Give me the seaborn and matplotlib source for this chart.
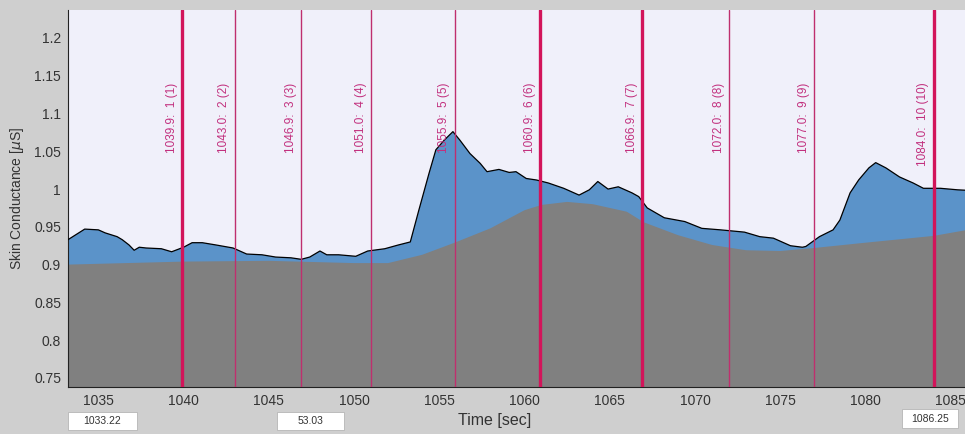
import matplotlib
matplotlib.use("Agg")
import matplotlib.pyplot as plt
from matplotlib.patches import Rectangle
import seaborn as sns
import numpy as np
import pandas as pd

# --------------------------
# Data
# --------------------------
sig_time = [1033.22, 1034.2, 1035.0, 1035.4, 1036.1, 1036.4, 1036.8, 1037.1, 1037.4, 1037.8,
            1038.7, 1039.3, 1040.0, 1040.5, 1041.1, 1041.9, 1042.9, 1043.7, 1044.6, 1045.4,
            1046.3, 1046.9, 1047.4, 1048.0, 1048.4, 1049.1, 1050.1, 1050.8, 1051.8, 1052.6,
            1053.3, 1053.8, 1054.4, 1054.8, 1055.3, 1055.8, 1056.2, 1056.8, 1057.4, 1057.8,
            1058.5, 1059.1, 1059.5, 1060.1, 1060.7, 1061.4, 1062.3, 1063.2, 1063.8, 1064.3,
            1064.9, 1065.5, 1066.3, 1066.7, 1067.2, 1068.2, 1069.4, 1070.4, 1071.5, 1072.9,
            1073.8, 1074.6, 1075.6, 1076.3, 1076.5, 1077.3, 1078.1, 1078.5, 1079.1, 1079.6,
            1080.2, 1080.6, 1081.2, 1082.0, 1082.8, 1083.4, 1084.4, 1085.4, 1086.25]
sig_value = [0.933, 0.947, 0.946, 0.942, 0.937, 0.933, 0.926, 0.919, 0.923, 0.922,
             0.921, 0.917, 0.923, 0.929, 0.929, 0.926, 0.922, 0.914, 0.913, 0.910,
             0.909, 0.907, 0.910, 0.918, 0.913, 0.913, 0.911, 0.918, 0.921, 0.926,
             0.930, 0.972, 1.021, 1.052, 1.065, 1.076, 1.065, 1.047, 1.034, 1.023,
             1.026, 1.022, 1.023, 1.014, 1.012, 1.008, 1.001, 0.992, 0.999, 1.010,
             1.000, 1.003, 0.995, 0.990, 0.975, 0.962, 0.957, 0.948, 0.946, 0.943,
             0.937, 0.935, 0.925, 0.923, 0.924, 0.937, 0.946, 0.959, 0.995, 1.012,
             1.028, 1.035, 1.028, 1.016, 1.008, 1.001, 1.001, 0.999, 0.998]

tonic_time = [1033.22, 1040, 1045, 1050, 1052, 1054, 1055.9, 1058, 1060, 1061,
              1062.5, 1064, 1066, 1067, 1069, 1071, 1073, 1075, 1077, 1080, 1084, 1086.25]
tonic_value = [0.900, 0.904, 0.905, 0.902, 0.902, 0.913, 0.929, 0.948, 0.972, 0.979,
               0.983, 0.980, 0.970, 0.956, 0.939, 0.926, 0.919, 0.918, 0.922, 0.929, 0.938, 0.947]

event_time = [1039.9, 1043.0, 1046.9, 1051.0, 1055.9, 1060.9, 1066.9, 1072.0, 1077.0, 1084.0]
event_label = ["1039.9:  1 (1)", "1043.0:  2 (2)", "1046.9:  3 (3)", "1051.0:  4 (4)",
               "1055.9:  5 (5)", "1060.9:  6 (6)", "1066.9:  7 (7)", "1072.0:  8 (8)",
               "1077.0:  9 (9)", "1084.0:  10 (10)"]
event_major = [True, False, False, False, False, True, True, False, False, True]

y_ticks = [0.75, 0.8, 0.85, 0.9, 0.95, 1.0, 1.05, 1.1, 1.15, 1.2]
x_ticks = [1035, 1040, 1045, 1050, 1055, 1060, 1065, 1070, 1075, 1080, 1085]

box_text = ["1033.22", "53.03", "1086.25"]

# --------------------------
# Figure
# --------------------------
sns.set_style("white")
plt.rcParams["font.family"] = ["Liberation Sans", "DejaVu Sans"]

W, H = 965, 434
fig = plt.figure(figsize=(W / 100, H / 100), dpi=100, facecolor="#cfcfcf")
ax = fig.add_axes([68 / W, 1 - 387 / H, (972 - 68) / W, (387 - 10) / H])
ax.set_facecolor("#f0f0fa")

df = pd.DataFrame({"t": sig_time, "sc": sig_value})
tonic = pd.DataFrame({"t": tonic_time, "sc": tonic_value})
t_grid = np.linspace(1033.22, 1086.25, 600)
tonic_i = np.interp(t_grid, tonic["t"], tonic["sc"])

ax.fill_between(df["t"], 0, df["sc"], color="#5b93c9", linewidth=0, zorder=1)
ax.fill_between(t_grid, 0, tonic_i, color="#808080", linewidth=0, zorder=2)
sns.lineplot(data=df, x="t", y="sc", color="black", linewidth=0.9, ax=ax, zorder=3)

for t, lab, major in zip(event_time, event_label, event_major):
    if major:
        ax.axvline(t, color="#d2145a", linewidth=2.4, zorder=4)
    else:
        ax.axvline(t, color="#bf2f6e", linewidth=1.0, zorder=4)
    ax.text(t - 0.25, 1.141, lab, rotation=90, ha="right", va="top",
            color="#c2307e", fontsize=8.5, zorder=5)

ax.set_xlim(1033.22, 1086.25)
ax.set_ylim(0.738, 1.237)
ax.set_xticks(x_ticks)
ax.set_yticks(y_ticks)
ax.set_yticklabels([f"{v:g}" for v in y_ticks])
ax.tick_params(axis="both", labelsize=10, colors="#333333", direction="in", length=3, pad=5)
ax.set_xlabel("")
ax.set_ylabel(r"Skin Conductance [$\mu$S]", fontsize=10, color="#333333", labelpad=6)
for s in ["top", "right"]:
    ax.spines[s].set_visible(False)
for s in ["left", "bottom"]:
    ax.spines[s].set_color("#222222")
    ax.spines[s].set_linewidth(0.8)

fig.text(495 / W, 1 - 421 / H, "Time [sec]", ha="center", va="center",
         fontsize=11.5, color="#333333")

# value boxes under the axis (pixel extents)
box_px = [(68, 137, 412, 430), (277, 344, 412, 430), (902, 958, 409, 428)]
for (x0, x1, y0, y1), txt in zip(box_px, box_text):
    fig.patches.append(Rectangle((x0 / W, 1 - y1 / H), (x1 - x0) / W, (y1 - y0) / H,
                                 transform=fig.transFigure, facecolor="white",
                                 edgecolor="#b5b5b5", linewidth=0.6))
    fig.text((x0 + x1) / 2 / W, 1 - (y0 + y1) / 2 / H, txt, ha="center", va="center",
             fontsize=7.5, color="#333333")

fig.savefig("out.png", dpi=100, facecolor=fig.get_facecolor())
